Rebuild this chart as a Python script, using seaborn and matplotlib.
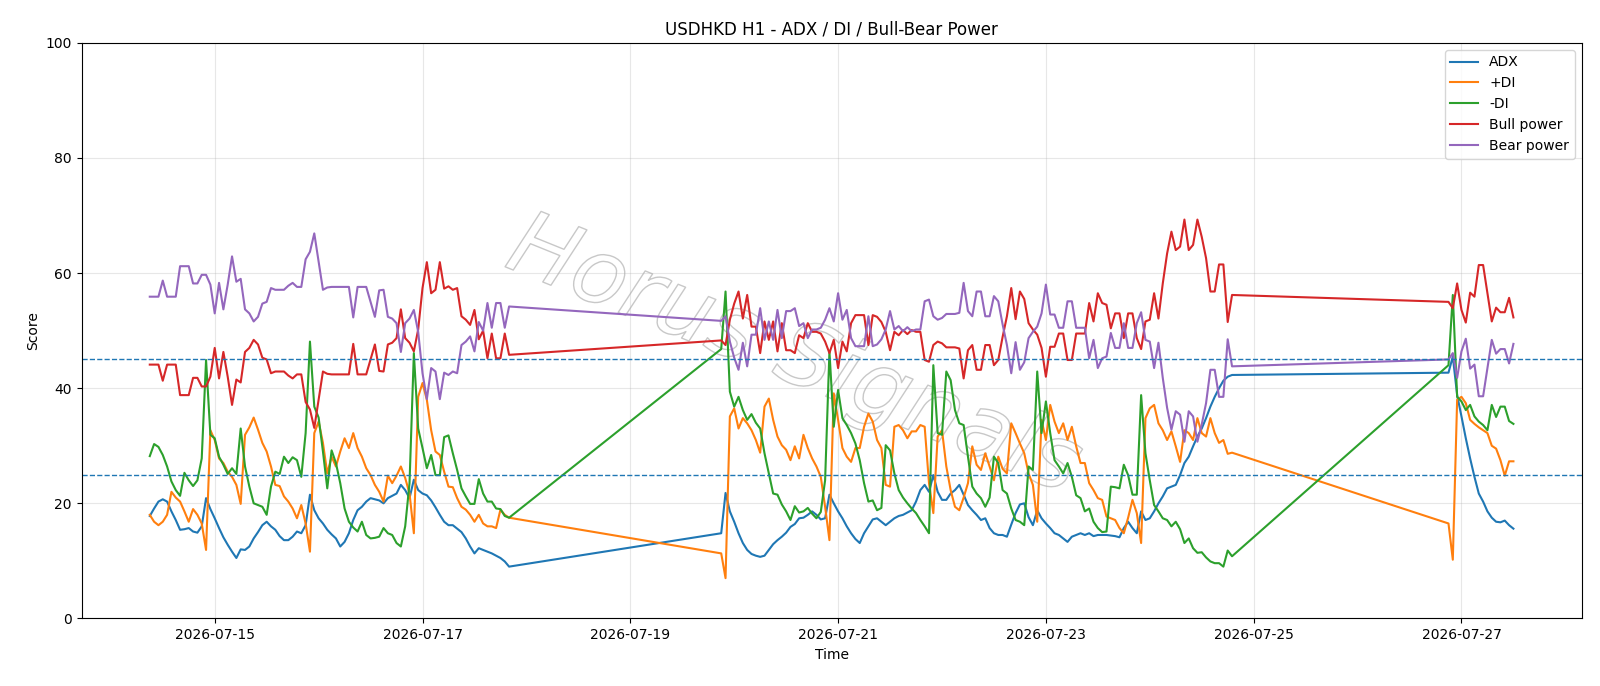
import pandas as pd
import matplotlib
matplotlib.use("Agg")
import matplotlib.pyplot as plt
import matplotlib.dates as mdates
import matplotlib.patheffects as pe
import seaborn as sns

# hourly bars, three trading blocks (weekend gaps are joined by the lines)
seg1 = pd.date_range("2026-07-14 09:00", "2026-07-17 20:00", freq="h")
seg2 = pd.date_range("2026-07-19 21:00", "2026-07-24 19:00", freq="h")
seg3 = pd.date_range("2026-07-26 21:00", "2026-07-27 12:00", freq="h")

adx = [
    # block 1
    17.8, 19.1, 20.3, 20.7, 20.3, 18.6, 17.1, 15.4, 15.5, 15.7,
    15.1, 14.9, 16.0, 20.9, 19.0, 17.4, 15.7, 14.1, 12.8, 11.6,
    10.5, 12.0, 11.9, 12.5, 13.9, 15.0, 16.2, 16.8, 16.0, 15.4,
    14.3, 13.6, 13.6, 14.2, 15.1, 14.8, 16.2, 21.5, 18.8, 17.4,
    16.5, 15.4, 14.6, 13.9, 12.5, 13.3, 14.8, 17.1, 18.8, 19.4,
    20.3, 20.9, 20.7, 20.5, 20.0, 20.9, 21.3, 21.7, 23.2, 22.3,
    20.9, 24.1, 22.3, 21.7, 21.4, 20.5, 19.3, 18.0, 16.8, 16.2,
    16.2, 15.6, 15.0, 13.9, 12.5, 11.3, 12.2, 11.9, 11.6, 11.3,
    10.9, 10.5, 9.9, 9.0,
    # block 2
    14.8, 21.8, 18.6, 16.8, 14.8, 13.1, 11.9, 11.2, 10.9, 10.7,
    10.9, 11.9, 12.9, 13.6, 14.2, 14.9, 15.9, 16.4, 17.4, 17.5,
    18.0, 18.6, 18.0, 17.2, 17.4, 21.5, 20.0, 18.6, 17.4, 16.0,
    14.8, 13.8, 13.1, 14.8, 16.0, 17.2, 17.4, 16.8, 16.2, 16.8,
    17.4, 17.8, 18.0, 18.4, 18.8, 20.3, 22.3, 23.2, 22.0, 24.9,
    22.0, 20.6, 20.6, 21.7, 22.3, 23.2, 21.5, 19.7, 18.8, 18.0,
    17.1, 17.4, 15.7, 14.8, 14.5, 14.5, 14.2, 16.3, 18.3, 19.8,
    20.0, 17.6, 16.2, 18.8, 17.4, 16.5, 15.7, 14.8, 14.5, 13.9,
    13.3, 14.2, 14.5, 14.8, 14.5, 14.8, 14.3, 14.5, 14.5, 14.5,
    14.4, 14.3, 14.1, 15.7, 16.8, 15.7, 14.8, 18.6, 17.1, 17.4,
    18.6, 20.0, 21.2, 22.6, 22.9, 23.2, 24.9, 27.0, 28.1, 29.9,
    31.6, 33.0, 34.8, 36.8, 38.5, 40.0, 41.3, 42.0, 42.3,
    # block 3
    42.7, 45.5, 38.8, 35.1, 31.3, 27.8, 24.6, 21.7, 20.3, 18.6,
    17.5, 16.8, 16.7, 17.0, 16.2, 15.6,
]

plus_di = [
    18.0, 16.8, 16.2, 16.8, 18.0, 22.0, 21.0, 20.3, 18.6, 16.8,
    19.0, 18.0, 16.5, 11.9, 32.7, 31.0, 27.8, 27.0, 25.5, 24.6,
    23.2, 19.9, 31.9, 33.2, 34.9, 32.8, 30.5, 29.0, 26.4, 23.2,
    23.0, 21.2, 20.3, 19.1, 17.4, 19.7, 16.5, 11.6, 32.2, 34.2,
    30.5, 25.2, 28.1, 26.4, 29.0, 31.3, 29.6, 32.2, 29.6, 28.1,
    26.1, 24.9, 23.2, 22.0, 20.3, 24.8, 23.5, 24.8, 26.4, 24.4,
    21.7, 14.8, 38.5, 40.9, 38.0, 32.7, 29.0, 28.4, 25.5, 22.9,
    22.8, 20.9, 19.4, 18.9, 18.0, 16.8, 18.0, 16.5, 16.0, 16.0,
    15.7, 18.9, 18.0, 17.5,
    11.3, 7.0, 35.1, 36.5, 33.0, 34.8, 33.9, 32.7, 31.0, 28.8,
    36.8, 38.2, 34.5, 31.6, 30.1, 29.3, 27.5, 29.9, 27.8, 31.9,
    29.6, 27.8, 26.4, 24.6, 19.4, 13.6, 39.1, 34.5, 29.6, 28.1,
    27.2, 29.6, 29.6, 33.3, 35.6, 34.2, 31.0, 29.6, 23.2, 22.9,
    33.3, 33.6, 32.7, 31.3, 32.5, 32.5, 33.6, 33.3, 23.5, 18.3,
    31.6, 32.7, 26.4, 22.3, 19.4, 18.8, 21.0, 23.5, 29.9, 26.7,
    25.8, 28.7, 26.4, 24.0, 28.1, 26.0, 25.2, 33.9, 32.2, 30.4,
    28.7, 25.2, 23.2, 16.8, 34.5, 31.0, 37.1, 34.2, 32.2, 33.9,
    31.0, 33.3, 29.9, 27.0, 27.0, 23.5, 22.3, 20.9, 20.6, 17.7,
    17.4, 17.1, 15.7, 14.8, 17.5, 20.6, 18.3, 13.1, 34.8, 36.5,
    37.1, 33.9, 32.7, 31.0, 32.5, 29.9, 27.2, 32.7, 32.2, 31.0,
    34.8, 32.2, 31.6, 34.8, 32.2, 30.5, 31.0, 28.6, 28.8,
    16.5, 10.2, 38.0, 38.5, 37.4, 34.5, 33.8, 33.2, 32.7, 32.2,
    30.0, 29.5, 27.5, 24.8, 27.3, 27.3,
]

minus_di = [
    28.2, 30.3, 29.8, 28.4, 26.4, 23.8, 22.3, 21.3, 25.3, 24.0,
    23.0, 24.0, 27.8, 44.9, 31.9, 31.3, 28.1, 26.7, 25.1, 26.1,
    25.1, 33.0, 26.4, 22.9, 20.0, 19.7, 19.4, 18.0, 22.9, 25.5,
    25.1, 28.1, 27.0, 28.0, 27.5, 24.6, 32.2, 48.1, 36.8, 34.9,
    29.0, 22.6, 29.2, 27.0, 23.5, 19.1, 16.8, 15.8, 15.1, 16.8,
    14.5, 13.9, 14.0, 14.2, 15.7, 14.8, 14.5, 13.1, 12.5, 16.0,
    23.5, 46.1, 33.0, 29.6, 26.1, 28.4, 24.9, 24.9, 31.5, 31.8,
    28.7, 25.8, 22.6, 21.2, 19.9, 19.9, 24.2, 21.7, 20.3, 20.3,
    19.1, 19.0, 17.8, 17.5,
    46.8, 56.8, 39.4, 36.8, 38.5, 36.2, 34.5, 35.5, 34.0, 33.0,
    28.7, 25.2, 21.7, 21.5, 19.8, 18.6, 17.1, 19.5, 18.4, 18.6,
    19.2, 18.2, 17.4, 18.5, 24.0, 46.4, 33.3, 39.7, 34.8, 33.6,
    32.2, 30.4, 27.5, 23.5, 20.3, 20.5, 18.8, 19.2, 30.1, 29.2,
    25.2, 22.3, 21.0, 20.0, 19.1, 18.3, 17.1, 16.0, 14.8, 44.0,
    32.2, 31.9, 42.9, 41.4, 36.2, 33.9, 33.6, 28.1, 22.9, 21.7,
    20.9, 19.4, 21.0, 28.1, 27.0, 22.3, 21.7, 19.1, 17.1, 16.8,
    16.2, 26.4, 25.8, 42.9, 32.2, 37.7, 32.2, 27.5, 26.4, 25.2,
    27.0, 24.6, 21.4, 20.9, 18.6, 19.1, 16.8, 15.7, 15.0, 15.1,
    22.9, 22.8, 22.6, 26.7, 24.9, 21.5, 21.5, 38.8, 28.7, 24.0,
    19.7, 18.6, 17.4, 17.1, 16.0, 16.8, 15.5, 13.1, 13.9, 12.2,
    11.4, 11.5, 10.6, 9.9, 9.6, 9.6, 9.0, 11.8, 10.8,
    44.0, 56.2, 38.5, 37.7, 36.2, 37.1, 35.1, 34.2, 33.6, 32.7,
    37.1, 35.0, 36.8, 36.8, 34.3, 33.8,
]

bull_power = [
    44.1, 44.1, 44.1, 41.3, 44.1, 44.1, 44.1, 38.8, 38.8, 38.8,
    41.8, 41.8, 40.3, 40.3, 42.0, 47.0, 41.7, 46.3, 42.0, 37.1,
    41.5, 41.0, 46.3, 47.0, 48.4, 47.6, 45.3, 45.0, 42.6, 42.9,
    42.9, 42.9, 42.2, 41.7, 42.4, 42.4, 37.6, 36.3, 33.1, 38.0,
    42.9, 42.5, 42.4, 42.4, 42.4, 42.4, 42.4, 47.7, 42.4, 42.4,
    42.4, 45.0, 47.6, 43.0, 42.9, 47.6, 47.9, 48.7, 53.7, 48.7,
    47.9, 46.4, 50.2, 57.4, 61.9, 56.5, 57.1, 61.9, 57.3, 57.7,
    57.1, 57.4, 52.5, 51.9, 51.0, 53.6, 48.5, 50.0, 45.2, 49.5,
    45.2, 45.2, 49.5, 45.8,
    48.3, 47.5, 51.9, 54.7, 56.8, 52.1, 56.2, 50.7, 50.7, 46.1,
    51.6, 48.4, 51.6, 46.4, 51.3, 46.6, 46.6, 46.1, 49.2, 48.7,
    51.3, 49.8, 49.8, 49.5, 48.1, 46.1, 48.4, 43.5, 48.1, 46.4,
    51.3, 52.7, 52.7, 52.7, 47.5, 52.7, 52.4, 51.5, 49.8, 46.6,
    49.8, 49.2, 50.1, 49.4, 50.1, 49.8, 49.8, 44.9, 44.6, 47.5,
    48.1, 47.8, 47.1, 47.1, 47.1, 46.9, 41.7, 46.6, 47.5, 43.2,
    43.2, 47.5, 47.5, 44.0, 44.9, 48.9, 52.5, 57.4, 52.0, 56.8,
    55.5, 51.3, 50.2, 49.3, 47.0, 42.0, 47.2, 47.2, 49.5, 49.5,
    44.9, 44.9, 49.5, 49.5, 49.5, 54.8, 51.6, 56.5, 54.8, 54.5,
    50.4, 53.0, 53.0, 48.7, 53.0, 53.0, 48.7, 46.8, 51.6, 51.9,
    56.5, 52.1, 58.2, 63.4, 67.2, 64.0, 64.6, 69.3, 64.0, 64.9,
    69.3, 66.3, 62.6, 56.8, 56.8, 61.5, 61.5, 51.5, 56.2,
    55.0, 53.9, 58.2, 53.6, 51.4, 56.6, 55.9, 61.4, 61.4, 56.5,
    51.6, 54.0, 53.2, 53.2, 55.7, 52.3,
]

bear_power = [
    55.9, 55.9, 55.9, 58.7, 55.9, 55.9, 55.9, 61.2, 61.2, 61.2,
    58.2, 58.2, 59.7, 59.7, 58.0, 53.0, 58.3, 53.7, 58.0, 62.9,
    58.5, 59.0, 53.7, 53.0, 51.6, 52.4, 54.7, 55.0, 57.4, 57.1,
    57.1, 57.1, 57.8, 58.3, 57.6, 57.6, 62.4, 63.7, 66.9, 62.0,
    57.1, 57.5, 57.6, 57.6, 57.6, 57.6, 57.6, 52.3, 57.6, 57.6,
    57.6, 55.0, 52.4, 57.0, 57.1, 52.4, 52.1, 51.3, 46.3, 51.3,
    52.1, 53.6, 49.8, 42.6, 38.1, 43.5, 42.9, 38.1, 42.7, 42.3,
    42.9, 42.6, 47.5, 48.1, 49.0, 46.4, 51.5, 50.0, 54.8, 50.5,
    54.8, 54.8, 50.5, 54.2,
    51.7, 52.5, 48.1, 45.3, 43.2, 47.9, 43.8, 49.3, 49.3, 53.9,
    48.4, 51.6, 48.4, 53.6, 48.7, 53.4, 53.4, 53.9, 50.8, 51.3,
    48.7, 50.2, 50.2, 50.5, 51.9, 53.9, 51.6, 56.5, 51.9, 53.6,
    48.7, 47.3, 47.3, 47.3, 52.5, 47.3, 47.6, 48.5, 50.2, 53.4,
    50.2, 50.8, 49.9, 50.6, 49.9, 50.2, 50.2, 55.1, 55.4, 52.5,
    51.9, 52.2, 52.9, 52.9, 52.9, 53.1, 58.3, 53.4, 52.5, 56.8,
    56.8, 52.5, 52.5, 56.0, 55.1, 51.1, 47.5, 42.6, 48.0, 43.2,
    44.5, 48.7, 49.8, 50.7, 53.0, 58.0, 52.8, 52.8, 50.5, 50.5,
    55.1, 55.1, 50.5, 50.5, 50.5, 45.2, 48.4, 43.5, 45.2, 45.5,
    49.6, 47.0, 47.0, 51.3, 47.0, 47.0, 51.3, 53.2, 48.4, 48.1,
    43.5, 47.9, 41.8, 36.6, 32.8, 36.0, 35.4, 30.7, 36.0, 35.1,
    30.7, 33.7, 37.4, 43.2, 43.2, 38.5, 38.5, 48.5, 43.8,
    45.0, 46.1, 41.8, 46.4, 48.6, 43.4, 44.1, 38.6, 38.6, 43.5,
    48.4, 46.0, 46.8, 46.8, 44.3, 47.7,
]

series_names = ["ADX", "+DI", "-DI", "Bull power", "Bear power"]

times = seg1.append(seg2).append(seg3)
df = pd.DataFrame({
    "time": times,
    "ADX": adx,
    "+DI": plus_di,
    "-DI": minus_di,
    "Bull power": bull_power,
    "Bear power": bear_power,
})
long = df.melt(id_vars="time", var_name="series", value_name="score")

fig, ax = plt.subplots(figsize=(16, 6.86), dpi=100)
fig.subplots_adjust(left=0.051, right=0.9885, top=0.9375, bottom=0.0985)

sns.lineplot(data=long, x="time", y="score", hue="series",
             hue_order=series_names, palette="tab10", linewidth=1.5,
             errorbar=None, ax=ax)

ax.axhline(25, color="#1f77b4", linestyle="--", linewidth=1.0)
ax.axhline(45, color="#1f77b4", linestyle="--", linewidth=1.0)

# faint outlined watermark
ax.text(0.475, 0.455, "Horus Signals", transform=ax.transAxes,
        rotation=-22, fontsize=64, style="italic", fontweight="light",
        color="none", ha="center", va="center", zorder=0.5,
        path_effects=[pe.withStroke(linewidth=1.0, foreground="#c8c8c8")])

ax.set_ylim(0, 100)
ax.set_title("USDHKD H1 - ADX / DI / Bull-Bear Power")
ax.set_xlabel("Time")
ax.set_ylabel("Score")
ax.grid(True, alpha=0.3)
ax.xaxis.set_major_locator(mdates.DayLocator(bymonthday=[15, 17, 19, 21, 23, 25, 27]))
ax.xaxis.set_major_formatter(mdates.DateFormatter("%Y-%m-%d"))

handles, labels = ax.get_legend_handles_labels()
ax.legend(handles, labels, loc="upper right")

fig.savefig("out.png", dpi=100)
